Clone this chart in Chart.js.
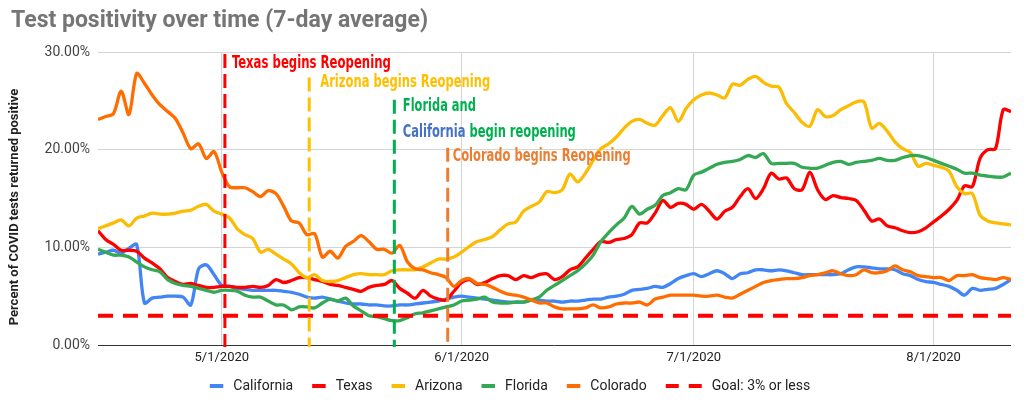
<!DOCTYPE html>
<html>
<head>
<meta charset="utf-8">
<title>Test positivity over time</title>
<script src="https://cdn.jsdelivr.net/npm/chart.js@4.4.1/dist/chart.umd.min.js"></script>
<style>
  html, body { margin: 0; padding: 0; background: #fff; }
</style>
</head>
<body>
<canvas id="myChart" width="1024" height="407"></canvas>
<script>
// x = days since 4/15/2020, one value per day (7-day average, %)
const tickDays = [16, 47, 77, 108];
const tickLabels = ['5/1/2020', '6/1/2020', '7/1/2020', '8/1/2020'];

const california = [
    9.3, 9.5, 9.7, 9.4, 9.9, 10.3, 4.3, 4.8, 4.9, 5.0, 5.0, 4.9, 4.1, 7.8, 8.2, 7.2, 6.1, 6.0, 5.8, 5.7,
    5.6, 5.6, 5.6, 5.6, 5.5, 5.4, 5.2, 4.9, 4.8, 4.9, 4.7, 4.5, 4.3, 4.2, 4.2, 4.1, 4.1, 4.0, 4.0, 4.1,
    4.1, 4.2, 4.3, 4.4, 4.5, 4.7, 4.9, 5.0, 4.9, 4.8, 4.7, 4.6, 4.5, 4.4, 4.4, 4.4, 4.6, 4.6, 4.5, 4.5,
    4.4, 4.5, 4.5, 4.6, 4.7, 4.7, 4.9, 5.0, 5.2, 5.6, 5.7, 5.8, 6.0, 5.9, 6.3, 6.8, 7.1, 7.3, 7.0, 7.3,
    7.6, 7.3, 6.8, 7.3, 7.4, 7.7, 7.7, 7.6, 7.7, 7.6, 7.4, 7.2, 7.2, 7.2, 7.2, 7.2, 7.3, 7.7, 8.0, 8.0,
    7.9, 7.8, 7.8, 7.7, 7.3, 7.1, 6.7, 6.5, 6.4, 6.2, 6.0, 5.6, 5.1, 5.8, 5.6, 5.7, 5.8, 6.2, 6.7
];
const texas = [
    11.7, 10.8, 10.3, 9.7, 9.7, 9.6, 8.9, 8.4, 7.8, 6.9, 6.5, 6.2, 6.3, 6.1, 5.9, 5.9, 6.0, 6.0, 5.9, 5.9,
    6.0, 5.9, 6.1, 6.7, 6.4, 6.6, 6.9, 6.9, 6.7, 6.5, 6.2, 6.1, 5.9, 5.7, 5.5, 5.9, 6.1, 6.2, 6.6, 5.8,
    5.3, 4.8, 5.6, 5.0, 4.7, 4.6, 5.5, 6.4, 6.7, 6.2, 6.4, 6.8, 7.1, 7.1, 6.7, 7.1, 6.9, 7.2, 7.3, 6.7,
    7.0, 7.7, 8.0, 8.9, 9.8, 10.6, 10.5, 10.8, 10.9, 11.3, 12.5, 12.5, 13.5, 14.8, 14.1, 14.5, 14.4, 13.9, 14.4, 13.7,
    12.9, 13.7, 14.1, 15.2, 16.0, 15.0, 16.0, 17.6, 17.0, 17.1, 16.0, 15.9, 17.7, 15.9, 14.9, 15.3, 15.1, 15.0, 14.8, 13.8,
    12.7, 12.9, 12.2, 12.0, 11.7, 11.5, 11.6, 12.0, 12.6, 13.2, 13.9, 14.8, 16.3, 16.2, 19.1, 20.0, 20.1, 24.1, 23.9
];
const arizona = [
    11.9, 12.2, 12.5, 12.8, 12.2, 13.0, 13.2, 13.5, 13.4, 13.4, 13.5, 13.7, 13.8, 14.2, 14.4, 13.7, 13.4, 13.0, 11.9, 11.3,
    10.9, 9.5, 9.8, 9.3, 8.8, 8.3, 7.4, 6.9, 7.2, 6.6, 6.5, 6.6, 6.9, 7.2, 7.3, 7.2, 7.2, 7.2, 7.6, 7.7,
    7.7, 7.7, 8.0, 8.4, 8.8, 8.8, 9.0, 9.5, 10.1, 10.6, 10.8, 11.1, 11.8, 12.4, 12.6, 13.7, 14.2, 14.6, 15.7, 15.6,
    15.9, 17.5, 16.7, 17.6, 18.9, 20.1, 20.6, 21.3, 22.2, 22.9, 23.1, 22.7, 22.5, 23.5, 24.3, 22.9, 24.2, 25.1, 25.6, 25.8,
    25.6, 25.3, 26.7, 26.6, 27.2, 27.5, 26.9, 26.5, 26.4, 24.7, 23.8, 22.8, 22.4, 24.1, 23.4, 23.5, 24.1, 24.5, 24.9, 24.9,
    22.2, 22.7, 21.9, 20.8, 20.1, 19.7, 18.3, 18.6, 18.4, 18.2, 17.8, 16.2, 15.5, 15.5, 13.3, 12.7, 12.5, 12.4, 12.3
];
const florida = [
    9.8, 9.5, 9.2, 9.2, 9.0, 8.5, 8.0, 7.7, 7.5, 6.7, 6.3, 6.1, 6.0, 5.8, 5.6, 5.4, 5.6, 5.6, 5.5, 5.1,
    4.9, 4.9, 4.5, 4.1, 4.1, 3.6, 3.9, 3.9, 3.8, 4.3, 4.7, 4.5, 4.8, 4.0, 3.5, 3.0, 2.9, 2.7, 2.5, 2.5,
    2.8, 3.2, 3.3, 3.5, 3.7, 3.9, 4.1, 4.5, 4.6, 4.7, 4.9, 4.4, 4.3, 4.3, 4.4, 4.4, 4.6, 4.9, 5.6, 6.1,
    6.6, 7.1, 7.6, 8.3, 9.2, 10.6, 11.5, 12.3, 13.0, 14.2, 13.4, 13.9, 14.3, 15.3, 15.6, 16.0, 15.9, 17.4, 17.7, 18.1,
    18.5, 18.7, 18.8, 19.0, 19.4, 19.2, 19.6, 18.6, 18.6, 18.6, 18.6, 18.2, 18.1, 18.1, 18.4, 18.7, 18.8, 18.5, 18.7, 18.8,
    18.9, 19.1, 18.9, 18.9, 19.2, 19.4, 19.4, 19.2, 18.9, 18.6, 18.3, 18.0, 17.6, 17.6, 17.4, 17.3, 17.2, 17.2, 17.6
];
const colorado = [
    23.1, 23.4, 23.7, 26.0, 23.6, 27.8, 26.8, 25.6, 24.6, 23.9, 23.2, 21.7, 20.1, 20.6, 19.1, 19.8, 17.7, 16.2, 16.1, 16.1,
    15.7, 15.2, 15.8, 15.5, 14.2, 12.7, 12.5, 11.3, 11.4, 9.0, 9.6, 8.9, 10.1, 10.6, 11.2, 10.6, 9.8, 9.8, 9.4, 10.2,
    8.5, 7.8, 7.7, 7.4, 7.2, 6.9, 6.0, 6.6, 6.8, 6.3, 6.2, 5.9, 5.5, 5.2, 5.1, 4.9, 4.6, 4.3, 4.3, 3.9,
    3.7, 3.7, 3.7, 3.8, 4.1, 3.8, 3.9, 4.2, 4.3, 4.3, 4.4, 4.1, 4.7, 4.9, 5.1, 5.1, 5.1, 5.1, 5.0, 5.0,
    5.1, 4.9, 4.8, 5.2, 5.6, 6.0, 6.4, 6.6, 6.7, 6.8, 6.8, 6.9, 7.1, 7.2, 7.4, 7.6, 7.3, 7.1, 7.2, 7.7,
    7.4, 7.4, 7.6, 8.1, 7.7, 7.5, 7.1, 7.0, 6.9, 6.9, 6.6, 7.1, 7.1, 7.2, 6.9, 6.8, 6.7, 6.9, 6.7
];
const goalValue = 3;
const lastDay = 118;

// reopening markers (day since 4/15, top of dashed line in %)
const reopenDays = [16.4, 27.3, 38.3, 45.2];
const reopenTops = [29.8, 27.4, 25.1, 20.2];
const reopenColors = ['#ff0000', '#ffc000', '#00b050', '#ed7d31'];
// text lines: [marker index, baseline value %, parts]
const reopenNotes = [
    [0, 28.4, [['Texas begins Reopening', '#ff0000']]],
    [1, 26.4, [['Arizona begins Reopening', '#ffc000']]],
    [2, 24.0, [['Florida and', '#00b050']]],
    [2, 21.3, [['California', '#4472c4'], [' begin reopening', '#00b050']]],
    [3, 18.8, [['Colorado begins Reopening', '#ed7d31']]]
];
const noteOffsets = [7, 11, 8.5, 8.5, 5];
const noteWidths = [159, 170, 73, 173, 178];

Chart.defaults.font.family = 'Roboto, "Liberation Sans", Arial, sans-serif';

const toPoints = arr => arr.map((v, i) => ({ x: i, y: v }));

const extras = {
    id: 'extras',
    afterDatasetsDraw(chart) {
        const { ctx, scales: { x, y } } = chart;
        ctx.save();
        // dashed reopening markers
        reopenDays.forEach((d, i) => {
            const px = x.getPixelForValue(d);
            ctx.strokeStyle = reopenColors[i];
            ctx.lineWidth = 3;
            ctx.setLineDash([14, 6]);
            ctx.beginPath();
            ctx.moveTo(px, y.getPixelForValue(reopenTops[i]));
            ctx.lineTo(px, y.getPixelForValue(0) + 2);
            ctx.stroke();
        });
        ctx.setLineDash([]);
        // notes
        ctx.font = 'bold 18px "Liberation Sans Narrow", "DejaVu Sans Condensed", "Roboto Condensed", sans-serif';
        ctx.textBaseline = 'alphabetic';
        reopenNotes.forEach((note, n) => {
            const [idx, val, parts] = note;
            const full = parts.map(p => p[0]).join('');
            const sx = noteWidths[n] / ctx.measureText(full).width;
            ctx.save();
            ctx.translate(x.getPixelForValue(reopenDays[idx]) + noteOffsets[n], y.getPixelForValue(val));
            ctx.scale(sx, 1);
            let off = 0;
            parts.forEach(p => {
                ctx.fillStyle = p[1];
                ctx.fillText(p[0], off, 0);
                off += ctx.measureText(p[0]).width;
            });
            ctx.restore();
        });
        ctx.restore();
    },
    afterDraw(chart) {
        const ctx = chart.ctx;
        ctx.save();
        // title
        ctx.fillStyle = '#757575';
        ctx.font = 'bold 23px Roboto, "Liberation Sans", sans-serif';
        ctx.textBaseline = 'alphabetic';
        ctx.fillText('Test positivity over time (7-day average)', 11, 27);
        // y axis title
        ctx.save();
        ctx.translate(15, 207);
        ctx.rotate(-Math.PI / 2);
        ctx.fillStyle = '#222';
        ctx.font = 'bold 13px Roboto, "Liberation Sans", sans-serif';
        ctx.textAlign = 'center';
        ctx.textBaseline = 'middle';
        ctx.fillText('Percent of COVID tests returned positive', 0, 0);
        ctx.restore();
        // legend
        ctx.font = '14px Roboto, "Liberation Sans", sans-serif';
        ctx.textBaseline = 'middle';
        const items = chart.data.datasets.map(ds => ({ label: ds.label, color: ds.borderColor, dashed: !!ds.borderDash }));
        const widths = items.map(it => (it.dashed ? 36 : 13.5) + 10 + ctx.measureText(it.label).width);
        const total = widths.reduce((a, b) => a + b, 0) + 19 * (items.length - 1);
        let lx = 510 - total / 2;
        const ly = 386;
        items.forEach((it, i) => {
            ctx.fillStyle = it.color;
            if (it.dashed) {
                ctx.fillRect(lx, ly - 2, 13, 4);
                ctx.fillRect(lx + 23, ly - 2, 13, 4);
            } else {
                ctx.fillRect(lx, ly - 2, 13.5, 4);
            }
            ctx.fillStyle = '#222';
            ctx.fillText(it.label, lx + (it.dashed ? 36 : 13.5) + 10, ly + 0.5);
            lx += widths[i] + 19;
        });
        ctx.restore();
    }
};

const series = [
    ['California', california, '#4285f4'],
    ['Texas', texas, '#ff0000'],
    ['Arizona', arizona, '#fbbc04'],
    ['Florida', florida, '#34a853'],
    ['Colorado', colorado, '#ff6d01']
];

const datasets = series.map((s, i) => ({
    label: s[0],
    data: toPoints(s[1]),
    borderColor: s[2],
    backgroundColor: s[2],
    borderWidth: 3.3,
    pointRadius: 0,
    tension: 0.3,
    order: 10 - i
}));
datasets.push({
    label: 'Goal: 3% or less',
    data: [{ x: 0, y: goalValue }, { x: lastDay, y: goalValue }],
    borderColor: '#ff0000',
    backgroundColor: '#ff0000',
    borderWidth: 4,
    borderDash: [15, 10],
    pointRadius: 0,
    order: 1
});

const ctx = document.getElementById('myChart').getContext('2d');
const myChart = new Chart(ctx, {
    type: 'line',
    data: { datasets: datasets },
    options: {
        responsive: false,
        animation: false,
        layout: { padding: { top: 52, right: 13, left: 0, bottom: 0 } },
        plugins: {
            legend: { display: false },
            title: { display: false },
            tooltip: { enabled: false }
        },
        scales: {
            x: {
                type: 'linear',
                min: 0,
                max: lastDay,
                afterBuildTicks: scale => {
                    scale.ticks = tickDays.map(v => ({ value: v }));
                },
                afterFit: scale => { scale.height = 62; },
                ticks: {
                    autoSkip: false,
                    maxRotation: 0,
                    padding: 5,
                    color: '#222',
                    font: { size: 13 },
                    callback: (v, i) => tickLabels[i]
                },
                grid: { color: '#d4d4d4', drawTicks: false },
                border: { display: false }
            },
            y: {
                min: 0,
                max: 30,
                afterFit: scale => { scale.width = 98; },
                ticks: {
                    stepSize: 10,
                    padding: 8,
                    color: '#444',
                    font: { size: 14 },
                    callback: v => v.toFixed(2) + '%'
                },
                grid: {
                    drawTicks: false,
                    color: c => (c.tick && c.tick.value === 0 ? '#333' : '#d4d4d4')
                },
                border: { display: false }
            }
        }
    },
    plugins: [extras]
});
</script>
</body>
</html>
